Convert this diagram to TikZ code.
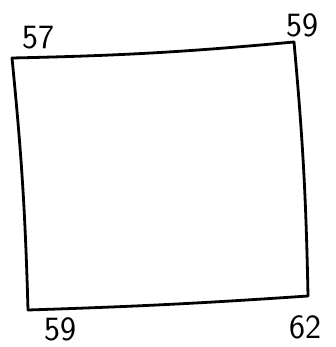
\documentclass[tikz,border=0pt]{standalone}
\usepackage{tikz}
\usetikzlibrary{positioning, calc}

\begin{document}
\begin{tikzpicture}[x=1pt, y=-1pt,
    edge/.style={line width=2.8pt, line cap=round, line join=round, black},
    corner/.style={font=\sffamily\fontsize{34}{34}\selectfont, inner sep=0pt}]
  % Page frame
  \useasboundingbox (0,0) rectangle (335,347);
  % Corners of the square
  \coordinate (tl) at (12,58);
  \coordinate (tr) at (294,42);
  \coordinate (br) at (308,296);
  \coordinate (bl) at (28,310);
  % Sides, slightly wobbly
  \draw[edge] (tl) to[bend right=2] (tr);
  \draw[edge] (tr) to[bend left=2] (br);
  \draw[edge] (br) to[bend left=1] (bl);
  \draw[edge] (bl) to[bend right=2] (tl);
  % Corner labels
  \node[corner] (ntl) at (38,38) {57};
  \node[corner] (ntr) at (302,25) {59};
  \node[corner] (nbl) at (60,329) {59};
  \node[corner] (nbr) at (305,327) {62};
\end{tikzpicture}
\end{document}
